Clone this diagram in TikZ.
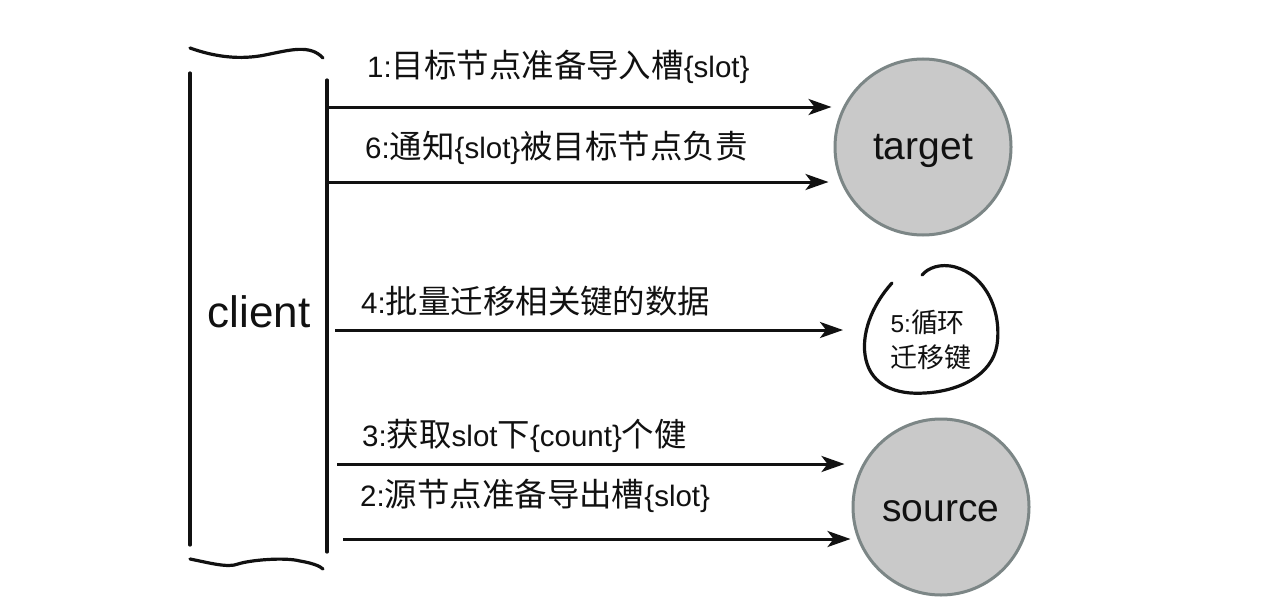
\documentclass[tikz,border=0pt]{standalone}
\usepackage{fontspec}
\setmainfont{Liberation Sans}
\newfontfamily\cjk[Scale=1.1]{Noto Sans CJK SC}
\usetikzlibrary{arrows.meta}
\definecolor{circfill}{HTML}{C9C9C9}
\definecolor{circline}{HTML}{7C8686}
\definecolor{ink}{HTML}{111111}
\tikzset{
  hand/.style={draw=ink, line width=3.2pt, line cap=round, line join=round},
  arr/.style={draw=ink, line width=3pt, -{Stealth[length=23pt,width=16pt,inset=6pt]}},
  lbl/.style={anchor=west, inner sep=0pt, text=ink, font=\fontsize{29.5}{34}\selectfont},
  role/.style={circle, minimum size=176pt, fill=circfill, draw=circline, line width=3pt, inner sep=0pt, text=ink, font=\fontsize{39}{44}\selectfont},
}
\begin{document}
\begin{tikzpicture}[x=1pt, y=-1pt]
\useasboundingbox (0,0) rectangle (1282,602);
\fill[white] (0,0) rectangle (1282,602);
% client bracket
\draw[hand] (190,73) -- (190,545);
\draw[hand] (327,80) -- (327,552);
\draw[hand] (190,48) .. controls (215,57) and (240,60) .. (265,55) .. controls (290,50) and (310,44) .. (323,58);
\draw[hand] (190,559) .. controls (210,563) and (228,568) .. (238,564) .. controls (250,560) and (285,557) .. (300,561) .. controls (312,563) and (320,566) .. (323,569);
\node[inner sep=0pt, text=ink, font=\fontsize{44}{48}\selectfont] (client) at (259,312) {client};
% circles
\node[role] (target) at (923,147) {\raisebox{-4pt}[\height][\depth]{target}};
\node[role] (source) at (941,507) {\raisebox{-4pt}[\height][\depth]{source}};
% loop
\node[inner sep=0pt, align=left, text=ink, font=\fontsize{24.5}{35}\selectfont] (loop) at (931,340) {5:{\cjk 循环}\\{\cjk 迁移键}};
\draw[hand] (892,283) .. controls (872,305) and (860,335) .. (866,360) .. controls (872,385) and (895,395) .. (925,393) .. controls (960,391) and (992,375) .. (997,345) .. controls (1002,310) and (985,275) .. (955,267) .. controls (940,263) and (928,268) .. (922,275);
% start coordinates
\coordinate (s1) at (327,107);
\coordinate (s6) at (327,182);
\coordinate (s4) at (335,330);
\coordinate (s3) at (337,464);
\coordinate (s2) at (343,539);
% arrows
\draw[arr] (s1) -- ([xshift=-2pt]s1 -| target.west);
\draw[arr] (s6) -- ([xshift=-5pt]s6 -| target.west);
\draw[arr] (s4) -- (s4 -| 843,0);
\draw[arr] (s3) -- ([xshift=-7pt]s3 -| source.west);
\draw[arr] (s2) -- ([xshift=-1pt]s2 -| source.west);
% labels
\node[lbl] (l1) at (367,67) {1:{\cjk 目标节点准备导入槽}\{slot\}};
\node[lbl] (l6) at (365,148) {6:{\cjk 通知}\{slot\}{\cjk 被目标节点负责}};
\node[lbl] (l4) at (361,301) {4:{\cjk 批量迁移相关键的数据}};
\node[lbl] (l3) at (362,436) {3:{\cjk 获取}slot{\cjk 下}\{count\}{\cjk 个健}};
\node[lbl] (l2) at (360,496) {2:{\cjk 源节点准备导出槽}\{slot\}};
\end{tikzpicture}
\end{document}
